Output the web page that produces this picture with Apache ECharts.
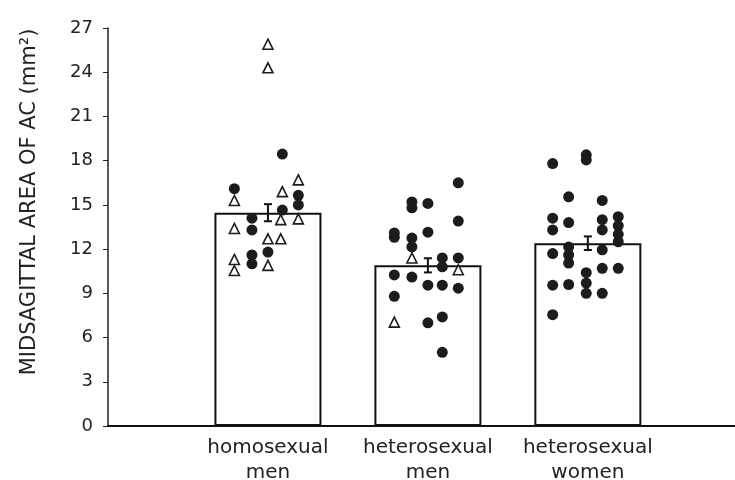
<!DOCTYPE html>
<html lang="en">
<head>
    <meta charset="UTF-8">
    <title>AC area</title>
    <style>
        *{
            margin: 0;
            padding: 0;
        }
        body{
            background: #FFFFFF;
        }
        #main{
            width: 735px;
            height: 480px;
        }
    </style>
</head>
<body>
<div id="main"></div>
<script src="https://cdn.jsdelivr.net/npm/echarts@6/dist/echarts.min.js"></script>
<script>
    // groups sit at x = 1, 2, 3 on a value axis
    let categories = ['homosexual\nmen', 'heterosexual\nmen', 'heterosexual\nwomen'];
    let means = [14.47, 10.9, 12.4];
    let sems = [0.58, 0.48, 0.46];
    let yTicks = [0, 3, 6, 9, 12, 15, 18, 21, 24, 27];

    // [x position, value]  (x = group + jitter)
    let homoCircles = [[1.09,18.45],[0.79,16.1],[1.19,15.65],[1.19,15.0],[1.09,14.65],[0.9,14.1],[0.9,13.3],
        [1.0,11.8],[0.9,11.6],[0.9,11.0]];
    let homoTriangles = [[1.0,25.9],[1.0,24.3],[1.19,16.7],[0.79,15.3],[1.09,15.9],[1.08,14.0],[1.19,14.05],
        [0.79,13.4],[1.0,12.7],[1.08,12.7],[0.79,11.3],[0.79,10.55],[1.0,10.9]];
    let heteroMenCircles = [[2.19,16.5],[1.9,15.2],[1.9,14.8],[2.0,15.1],[2.19,13.9],[1.79,13.1],[1.79,12.8],
        [2.0,13.15],[1.9,12.75],[1.9,12.15],[2.09,11.4],[2.09,10.8],[2.19,11.4],[1.79,10.25],[1.9,10.1],
        [2.0,9.55],[2.09,9.55],[2.19,9.35],[1.79,8.8],[2.0,7.0],[2.09,7.4],[2.09,5.0]];
    let heteroMenTriangles = [[1.9,11.4],[2.19,10.6],[1.79,7.05]];
    let womenCircles = [[2.78,17.8],[2.99,18.4],[2.99,18.05],[2.88,15.55],[3.09,15.3],[2.78,14.1],[2.88,13.8],
        [3.09,14.0],[3.09,13.3],[3.19,14.2],[3.19,13.6],[3.19,13.0],[3.19,12.5],[2.78,13.3],[2.78,11.7],
        [2.88,12.15],[2.88,11.6],[2.88,11.05],[3.09,11.95],[3.09,10.7],[3.19,10.7],[2.99,10.4],[2.99,9.7],
        [2.99,9.0],[2.78,9.55],[2.88,9.6],[3.09,9.0],[2.78,7.55]];

    let circles = homoCircles.concat(heteroMenCircles, womenCircles);
    let triangles = homoTriangles.concat(heteroMenTriangles);

    let barData = [];
    let errData = [];
    for(let i = 0;i<means.length;i++){
        barData.push([i + 1, means[i]]);
        errData.push([i + 1, means[i] - sems[i], means[i] + sems[i]]);
    }

    let myChart = echarts.init(document.getElementById('main'));
    myChart.setOption({
        backgroundColor: '#FFFFFF',
        animation: false,
        grid: {
            left: 108,
            right: 0,
            top: 28,
            bottom: 54,
            outerBoundsMode: 'none'
        },
        xAxis: {
            type: 'value',
            min: 0,
            max: 3.92,
            interval: 1,
            splitLine: {show: false},
            axisTick: {show: false},
            axisLine: {lineStyle: {color: '#111', width: 2}},
            axisLabel: {
                margin: 9,
                fontFamily: 'DejaVu Sans',
                fontSize: 20,
                lineHeight: 25,
                color: '#222',
                formatter: function (v) {
                    return categories[v - 1] || '';
                }
            }
        },
        yAxis: {
            type: 'value',
            min: yTicks[0],
            max: yTicks[yTicks.length - 1],
            interval: 3,
            splitLine: {show: false},
            axisLine: {show: true, lineStyle: {color: '#222', width: 1.5}},
            axisTick: {show: true, length: 5, lineStyle: {color: '#222'}},
            axisLabel: {
                margin: 15,
                fontFamily: 'DejaVu Sans',
                fontSize: 18,
                color: '#222'
            },
            name: 'MIDSAGITTAL AREA OF AC (mm²)',
            nameLocation: 'middle',
            nameGap: 68,
            nameTextStyle: {
                fontFamily: 'DejaVu Sans',
                fontSize: 21,
                color: '#222',
                padding: [0, 0, 0, 50]
            }
        },
        series: [
            {
                type: 'bar',
                data: barData,
                barWidth: 107,
                itemStyle: {
                    color: '#FFFFFF',
                    borderColor: '#111',
                    borderWidth: 2
                },
                z: 1
            },
            {
                type: 'custom',
                data: errData,
                z: 3,
                renderItem: function (params, api) {
                    let x = api.value(0);
                    let lo = api.coord([x, api.value(1)]);
                    let hi = api.coord([x, api.value(2)]);
                    let w = 4;
                    let st = {stroke: '#111', lineWidth: 2};
                    return {
                        type: 'group',
                        children: [
                            {type: 'line', shape: {x1: lo[0], y1: lo[1], x2: hi[0], y2: hi[1]}, style: st},
                            {type: 'line', shape: {x1: hi[0] - w, y1: hi[1], x2: hi[0] + w, y2: hi[1]}, style: st},
                            {type: 'line', shape: {x1: lo[0] - w, y1: lo[1], x2: lo[0] + w, y2: lo[1]}, style: st}
                        ]
                    };
                }
            },
            {
                type: 'scatter',
                data: circles,
                symbol: 'circle',
                symbolSize: 11,
                itemStyle: {color: '#1c1c1c', opacity: 1},
                z: 4
            },
            {
                type: 'scatter',
                data: triangles,
                symbol: 'triangle',
                symbolSize: 10,
                itemStyle: {color: '#FFFFFF', borderColor: '#1c1c1c', borderWidth: 1.6, opacity: 1},
                z: 5
            }
        ]
    });
</script>
</body>
</html>
